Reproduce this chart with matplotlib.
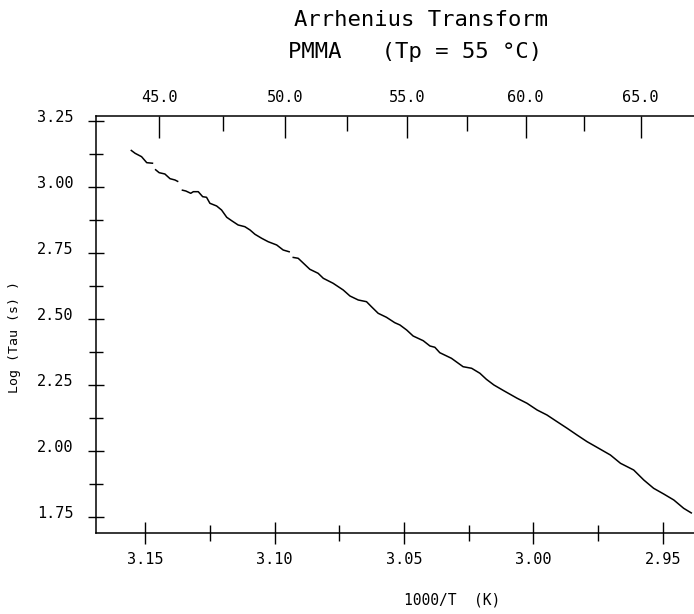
import numpy as np
import matplotlib
matplotlib.use("Agg")
import matplotlib.pyplot as plt
from matplotlib.ticker import FixedLocator, FormatStrFormatter
import matplotlib.transforms as mtransforms

# ---- data (1000/T in 1/K, log10 tau in s) ----
seg1_x = [3.1556, 3.1539, 3.1514, 3.1494, 3.1469]
seg1_y = [3.1402, 3.1277, 3.1149, 3.0922, 3.0899]

seg2_x = [3.1462, 3.1446, 3.1424, 3.1404, 3.1385, 3.1372]
seg2_y = [3.0672, 3.0543, 3.0494, 3.0316, 3.0267, 3.0202]

seg3_x = [3.1359, 3.1343, 3.1324, 3.1314, 3.1295, 3.1278, 3.1263, 3.1250,
          3.1224, 3.1205, 3.1185, 3.1166, 3.1141, 3.1115, 3.1095, 3.1076,
          3.1050, 3.1025, 3.0992, 3.0967, 3.0941]
seg3_y = [2.9888, 2.9850, 2.9763, 2.9824, 2.9824, 2.9635, 2.9612, 2.9385,
          2.9283, 2.9131, 2.8855, 2.8726, 2.8564, 2.8499, 2.8374, 2.8212,
          2.8060, 2.7931, 2.7807, 2.7617, 2.7542]

seg4_x = [3.0931, 3.0909, 3.0902, 3.0864, 3.0832, 3.0812, 3.0774, 3.0735,
          3.0709, 3.0677, 3.0645, 3.0626, 3.0600, 3.0568, 3.0536, 3.0516,
          3.0490, 3.0465, 3.0426, 3.0400, 3.0381, 3.0362, 3.0317, 3.0272,
          3.0239, 3.0207, 3.0182, 3.0153, 3.0115, 3.0063, 3.0025, 2.9986,
          2.9948, 2.9909, 2.9870, 2.9832, 2.9793, 2.9755, 2.9703, 2.9664,
          2.9613, 2.9574, 2.9536, 2.9497, 2.9458, 2.9420, 2.9388]
seg4_y = [2.7341, 2.7303, 2.7239, 2.6887, 2.6735, 2.6546, 2.6357, 2.6103,
          2.5876, 2.5725, 2.5660, 2.5471, 2.5221, 2.5070, 2.4866, 2.4779,
          2.4589, 2.4362, 2.4184, 2.3984, 2.3935, 2.3730, 2.3518, 2.3200,
          2.3140, 2.2951, 2.2723, 2.2508, 2.2292, 2.2004, 2.1815, 2.1561,
          2.1372, 2.1119, 2.0869, 2.0615, 2.0362, 2.0150, 1.9858, 1.9544,
          1.9290, 1.8912, 1.8598, 1.8382, 1.8155, 1.7841, 1.7651]

x_major = [3.15, 3.10, 3.05, 3.00, 2.95]
x_minor = [3.125, 3.075, 3.025, 2.975]
y_major = [1.75, 2.00, 2.25, 2.50, 2.75, 3.00, 3.25]
y_minor = [1.875, 2.125, 2.375, 2.625, 2.875, 3.125]
top_major = [45.0, 50.0, 55.0, 60.0, 65.0]
top_minor = [47.5, 52.5, 57.5, 62.5]

FONT = "DejaVu Sans Mono"
plt.rcParams["font.family"] = FONT

fig = plt.figure(figsize=(6.94, 6.14), dpi=100)
ax = fig.add_axes([96 / 694, 1 - 532.7 / 614, 598 / 694, (532.7 - 115.7) / 614])

for xs, ys in [(seg1_x, seg1_y), (seg2_x, seg2_y), (seg3_x, seg3_y), (seg4_x, seg4_y)]:
    ax.plot(xs, ys, color="black", lw=1.1, solid_capstyle="butt")

ax.set_xlim(3.169, 2.938)
ax.set_ylim(1.6917, 3.270)

ax.spines["right"].set_visible(False)
ax.spines["top"].set_visible(False)
for s in ["left", "bottom"]:
    ax.spines[s].set_linewidth(1.1)

ax.xaxis.set_major_locator(FixedLocator(x_major))
ax.xaxis.set_minor_locator(FixedLocator(x_minor))
ax.yaxis.set_major_locator(FixedLocator(y_major))
ax.yaxis.set_minor_locator(FixedLocator(y_minor))
ax.xaxis.set_major_formatter(FormatStrFormatter("%.2f"))
ax.yaxis.set_major_formatter(FormatStrFormatter("%.2f"))

ax.tick_params(axis="x", which="major", direction="inout", length=16, width=1.0,
               labelsize=11, pad=6, top=False)
ax.tick_params(axis="x", which="minor", direction="inout", length=12, width=1.0, top=False)
ax.tick_params(axis="y", which="major", direction="inout", length=12, width=1.0,
               labelsize=11, pad=10, right=False)
ax.tick_params(axis="y", which="minor", direction="inout", length=10, width=1.0, right=False)

# y tick labels sit slightly above their ticks
off = mtransforms.ScaledTranslation(0, 5 / 100, fig.dpi_scale_trans)
for lab in ax.get_yticklabels():
    lab.set_transform(lab.get_transform() + off)

def inv_to_c(x):
    x = np.asarray(x, dtype=float)
    with np.errstate(divide="ignore", invalid="ignore"):
        return 1000.0 / x - 273.0

def c_to_inv(c):
    c = np.asarray(c, dtype=float)
    with np.errstate(divide="ignore", invalid="ignore"):
        return 1000.0 / (c + 273.0)

sec = ax.secondary_xaxis("top", functions=(inv_to_c, c_to_inv))
sec.xaxis.set_major_locator(FixedLocator(top_major))
sec.xaxis.set_minor_locator(FixedLocator(top_minor))
sec.xaxis.set_major_formatter(FormatStrFormatter("%.1f"))
sec.tick_params(axis="x", which="major", direction="in", length=16, width=1.0,
                labelsize=11, pad=8)
sec.tick_params(axis="x", which="minor", direction="in", length=11, width=1.0)
sec.spines["top"].set_linewidth(1.1)

fig.text(421 / 694, 1 - 20 / 614, "Arrhenius Transform", ha="center", va="center",
         fontsize=16, family=FONT)
fig.text(415 / 694, 1 - 52 / 614, "PMMA   (Tp = 55 \u00b0C)", ha="center", va="center",
         fontsize=16, family=FONT)
fig.text(452 / 694, 1 - 600 / 614, "1000/T  (K)", ha="center", va="center",
         fontsize=10.5, family=FONT)
fig.text(15 / 694, 1 - 337 / 614, "Log (Tau (s) )", ha="center", va="center",
         rotation=90, fontsize=9.5, family=FONT)

fig.savefig("out.png", dpi=100)
